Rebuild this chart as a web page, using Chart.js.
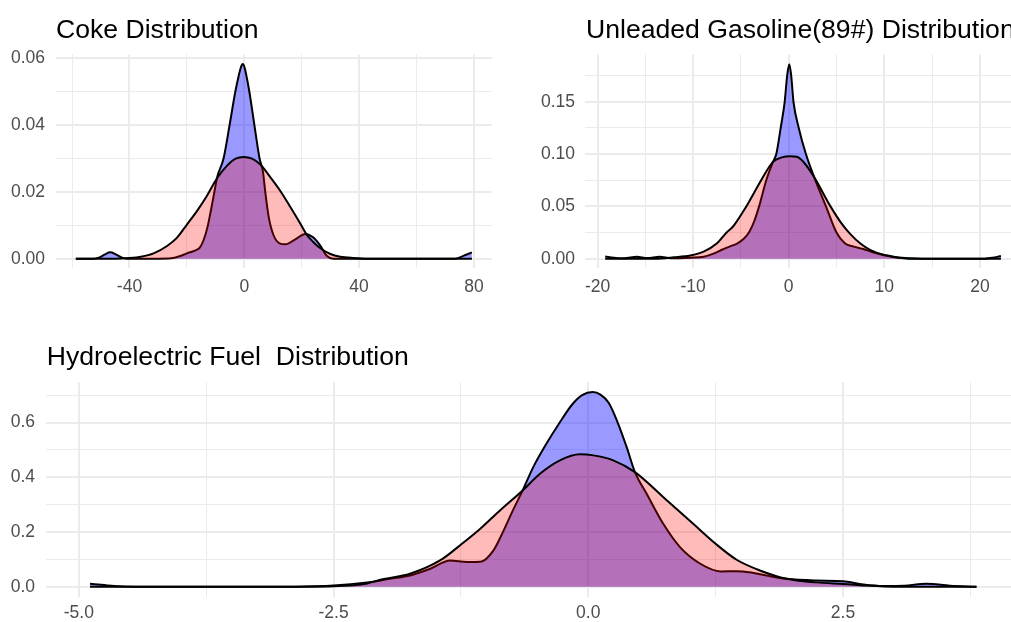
<!DOCTYPE html>
<html>
<head>
<meta charset="utf-8">
<script src="https://cdn.jsdelivr.net/npm/chart.js@4.4.1/dist/chart.umd.min.js"></script>
<style>
  html, body { margin: 0; padding: 0; background: #fff; }
  body { width: 1011px; height: 622px; overflow: hidden; position: relative; }
  canvas { position: absolute; display: block; }
</style>
</head>
<body>
<canvas id="coke" width="500" height="300" style="left:0;top:0;"></canvas>
<canvas id="gasoline" width="521" height="300" style="left:500px;top:0;"></canvas>
<canvas id="hydro" width="1021" height="302" style="left:0;top:320px;"></canvas>
<script>
// ---- Coke: observed density (blue) and reference density (red)
const cokeObsX = [-58.7, -52.5, -50.7, -48.5, -46.7, -44.8, -42.6, -41, -30, -25.5, -22.3, -20, -17, -15.5, -14.2, -12.8, -11.5, -10.3, -9.5, -7.2, -5.1, -3.1, -1.9, -1.2, -0.6, 0.1, 0.7, 1.74, 3.5, 5.3, 6.5, 7.3, 8.5, 10.2, 12.5, 14.3, 17.8, 21.3, 24.1, 26.4, 28.8, 31.1, 73.5, 76.5, 79.3];
const cokeObsY = [0, 0, 0.0003, 0.0013, 0.0019, 0.0013, 0.0003, 0, 0, 0.0001, 0.0008, 0.0016, 0.0025, 0.0033, 0.0055, 0.0095, 0.015, 0.0205, 0.0242, 0.030, 0.040, 0.050, 0.0548, 0.0571, 0.0581, 0.0571, 0.0548, 0.050, 0.040, 0.030, 0.026, 0.020, 0.0125, 0.007, 0.0045, 0.0043, 0.0058, 0.0074, 0.0063, 0.004, 0.0008, 0, 0, 0.0009, 0.0019];
const cokeRefX = [-58.7, -45, -40, -36, -31.6, -26.9, -23.5, -20, -16.5, -13, -9.5, -6, -3, -0.2, 2.7, 5.6, 9.1, 12.5, 16, 19.5, 21.8, 24, 26.5, 30, 33.4, 38, 43, 79.3];
const cokeRefY = [0, 0, 0.0002, 0.0006, 0.0016, 0.0038, 0.0062, 0.0102, 0.0142, 0.0188, 0.0240, 0.0278, 0.0299, 0.0304, 0.0299, 0.0281, 0.0243, 0.0203, 0.0155, 0.0105, 0.0071, 0.0050, 0.0031, 0.0014, 0.0006, 0.0002, 0, 0];
const cokeXTicks = [-60, -40, -20, 0, 20, 40, 60, 80];
const cokeXLabels = ['', '-40', '', '0', '', '40', '', '80'];
const cokeYTicks = [0, 0.01, 0.02, 0.03, 0.04, 0.05, 0.06];
const cokeYLabels = ['0.00', '', '0.02', '', '0.04', '', '0.06'];

// ---- Unleaded Gasoline (89#)
const gasObsX = [-19.2, -18.3, -17.2, -15.9, -14.8, -13.5, -12.3, -10.3, -8.9, -7.8, -7.0, -6.2, -5.4, -4.7, -4.1, -3.6, -3.1, -2.35, -1.65, -1.3, -0.84, -0.42, -0.15, 0.06, 0.25, 0.5, 1.05, 1.8, 2.66, 3.9, 5.0, 5.9, 6.8, 7.8, 8.8, 9.9, 10.9, 12, 13, 20.5, 21.3, 22.2];
const gasObsY = [0.0022, 0.0008, 0.0003, 0.0019, 0.0006, 0.0019, 0.0005, 0.0010, 0.0018, 0.0050, 0.0085, 0.0115, 0.0145, 0.019, 0.026, 0.036, 0.050, 0.075, 0.0925, 0.100, 0.125, 0.150, 0.176, 0.186, 0.176, 0.150, 0.125, 0.100, 0.078, 0.050, 0.025, 0.0145, 0.0115, 0.0092, 0.0062, 0.0035, 0.0017, 0.0005, 0, 0, 0.0008, 0.0026];
const gasRefX = [-19.2, -14, -12, -10.3, -8.9, -7.5, -6.5, -5.8, -4.5, -2.88, -1.65, -0.73, 0.14, 0.84, 1.53, 2.66, 4.37, 5.5, 6.45, 7.5, 8.5, 9.9, 10.6, 11.3, 12.7, 14, 22.2];
const gasRefY = [0, 0, 0.0013, 0.0030, 0.0067, 0.0147, 0.025, 0.031, 0.049, 0.075, 0.0925, 0.0968, 0.098, 0.0975, 0.0927, 0.078, 0.050, 0.034, 0.0235, 0.0145, 0.0085, 0.0038, 0.0026, 0.0013, 0.0003, 0, 0];
const gasXTicks = [-20, -15, -10, -5, 0, 5, 10, 15, 20];
const gasXLabels = ['-20', '', '-10', '', '0', '', '10', '', '20'];
const gasYTicks = [0, 0.025, 0.05, 0.075, 0.10, 0.125, 0.15, 0.175];
const gasYLabels = ['0.00', '', '0.05', '', '0.10', '', '0.15', ''];

// ---- Hydroelectric Fuel
const hydroObsX = [-4.89, -4.75, -4.6, -4.4, -3.0, -2.7, -2.5, -2.17, -2.04, -1.95, -1.75, -1.55, -1.357, -1.19, -1.06, -0.93, -0.83, -0.74, -0.644, -0.54, -0.41, -0.28, -0.16, -0.06, 0.043, 0.12, 0.2, 0.28, 0.377, 0.458, 0.573, 0.736, 0.9, 1.1, 1.3, 1.45, 1.6, 1.75, 1.947, 2.24, 2.5, 2.7, 2.9, 3.1, 3.32, 3.55, 3.81];
const hydroObsY = [0.011, 0.006, 0.0015, 0, 0, 0.002, 0.005, 0.016, 0.023, 0.029, 0.041, 0.066, 0.096, 0.090, 0.091, 0.133, 0.206, 0.279, 0.352, 0.437, 0.523, 0.600, 0.665, 0.700, 0.7115, 0.702, 0.672, 0.608, 0.510, 0.419, 0.340, 0.230, 0.145, 0.084, 0.056, 0.057, 0.052, 0.041, 0.029, 0.023, 0.0205, 0.0084, 0.003, 0.004, 0.011, 0.004, 0];
const hydroRefX = [-4.89, -3.0, -2.5, -2.17, -2.04, -1.75, -1.455, -1.24, -1.06, -0.867, -0.644, -0.474, -0.278, -0.081, 0.049, 0.245, 0.458, 0.77, 1.03, 1.25, 1.456, 1.685, 1.947, 2.24, 2.5, 2.7, 2.9, 3.1, 3.81];
const hydroRefY = [0, 0, 0.002, 0.012, 0.0256, 0.0475, 0.096, 0.157, 0.212, 0.279, 0.352, 0.413, 0.462, 0.484, 0.480, 0.462, 0.419, 0.316, 0.230, 0.157, 0.0987, 0.0596, 0.029, 0.016, 0.010, 0.005, 0.001, 0, 0];
const hydroXTicks = [-5, -3.75, -2.5, -1.25, 0, 1.25, 2.5, 3.75];
const hydroXLabels = ['-5.0', '', '-2.5', '', '0.0', '', '2.5', ''];
const hydroYTicks = [0, 0.1, 0.2, 0.3, 0.4, 0.5, 0.6, 0.7];
const hydroYLabels = ['0.0', '', '0.2', '', '0.4', '', '0.6', ''];

const FONT = "'Liberation Sans', Arial, Helvetica, sans-serif";
const toPoints = (xs, ys) => xs.map((x, i) => ({ x: x, y: ys[i] }));

// Panel heading drawn at the left edge of the plotting area
const panelTitle = {
  id: 'panelTitle',
  afterDraw(chart, args, opts) {
    const { ctx, chartArea } = chart;
    ctx.save();
    ctx.font = opts.size + 'px ' + FONT;
    ctx.fillStyle = '#000000';
    ctx.textAlign = 'left';
    ctx.textBaseline = 'alphabetic';
    ctx.fillText(opts.text, chartArea.left + opts.dx, opts.baseline);
    ctx.restore();
  }
};

function axis(ticks, labels, min, max, opts) {
  return {
    type: 'linear',
    min: min,
    max: max,
    afterBuildTicks(scale) { scale.ticks = ticks.map(v => ({ value: v })); },
    afterFit(scale) {
      if (opts.width !== undefined) scale.width = opts.width;
      if (opts.height !== undefined) scale.height = opts.height;
    },
    border: { display: false },
    grid: {
      drawTicks: false,
      color: '#ebebeb',
      lineWidth: ctx => (labels[ctx.index] ? 2 : 1)
    },
    ticks: {
      autoSkip: false,
      maxRotation: 0,
      padding: opts.padding,
      color: '#4d4d4d',
      font: { family: FONT, size: 17.5 },
      callback: (value, index) => labels[index]
    }
  };
}

function makePanel(id, cfg) {
  new Chart(document.getElementById(id), {
    type: 'line',
    data: {
      datasets: [
        {
          data: toPoints(cfg.refX, cfg.refY),
          borderColor: '#000000',
          backgroundColor: 'rgba(255,0,0,0.27)',
          fill: 'origin',
          order: 0
        },
        {
          data: toPoints(cfg.obsX, cfg.obsY),
          borderColor: '#000000',
          backgroundColor: 'rgba(0,0,255,0.4)',
          fill: 'origin',
          order: 1
        }
      ]
    },
    options: {
      responsive: false,
      animation: false,
      devicePixelRatio: 1,
      layout: { padding: cfg.padding },
      elements: {
        point: { radius: 0, hoverRadius: 0 },
        line: { borderWidth: 2, cubicInterpolationMode: 'monotone', borderJoinStyle: 'round' }
      },
      plugins: {
        legend: { display: false },
        tooltip: { enabled: false },
        title: { display: false },
        panelTitle: { text: cfg.title, size: 26.6, dx: cfg.titleDx, baseline: cfg.titleBaseline }
      },
      scales: {
        x: axis(cfg.xTicks, cfg.xLabels, cfg.xMin, cfg.xMax, { height: cfg.xAxisHeight, padding: cfg.xPad }),
        y: axis(cfg.yTicks, cfg.yLabels, cfg.yMin, cfg.yMax, { width: cfg.yAxisWidth, padding: cfg.yPad })
      }
    },
    plugins: [panelTitle]
  });
}

makePanel('coke', {
  title: 'Coke Distribution', titleDx: 0, titleBaseline: 38,
  obsX: cokeObsX, obsY: cokeObsY, refX: cokeRefX, refY: cokeRefY,
  xTicks: cokeXTicks, xLabels: cokeXLabels, yTicks: cokeYTicks, yLabels: cokeYLabels,
  xMin: -65.6, xMax: 86.2, yMin: -0.0029, yMax: 0.061,
  padding: { top: 54.4, left: 0, right: 8.3, bottom: 0 },
  xAxisHeight: 31.6, yAxisWidth: 56, xPad: 8, yPad: 11
});

makePanel('gasoline', {
  title: 'Unleaded Gasoline(89#) Distribution', titleDx: 0.6, titleBaseline: 38,
  obsX: gasObsX, obsY: gasObsY, refX: gasRefX, refY: gasRefY,
  xTicks: gasXTicks, xLabels: gasXLabels, yTicks: gasYTicks, yLabels: gasYLabels,
  xMin: -21.27, xMax: 24.27, yMin: -0.0093, yMax: 0.1953,
  padding: { top: 54.4, left: 0, right: 0.3, bottom: 0 },
  xAxisHeight: 31.6, yAxisWidth: 85.4, xPad: 8, yPad: 10.4
});

makePanel('hydro', {
  title: 'Hydroelectric Fuel  Distribution', titleDx: 1, titleBaseline: 45,
  obsX: hydroObsX, obsY: hydroObsY, refX: hydroRefX, refY: hydroRefY,
  xTicks: hydroXTicks, xLabels: hydroXLabels, yTicks: hydroYTicks, yLabels: hydroYLabels,
  xMin: -5.325, xMax: 4.245, yMin: -0.0356, yMax: 0.747,
  padding: { top: 62.3, left: 0, right: 0.2, bottom: 0 },
  xAxisHeight: 25.5, yAxisWidth: 45.7, xPad: 6, yPad: 10.7
});
</script>
</body>
</html>
